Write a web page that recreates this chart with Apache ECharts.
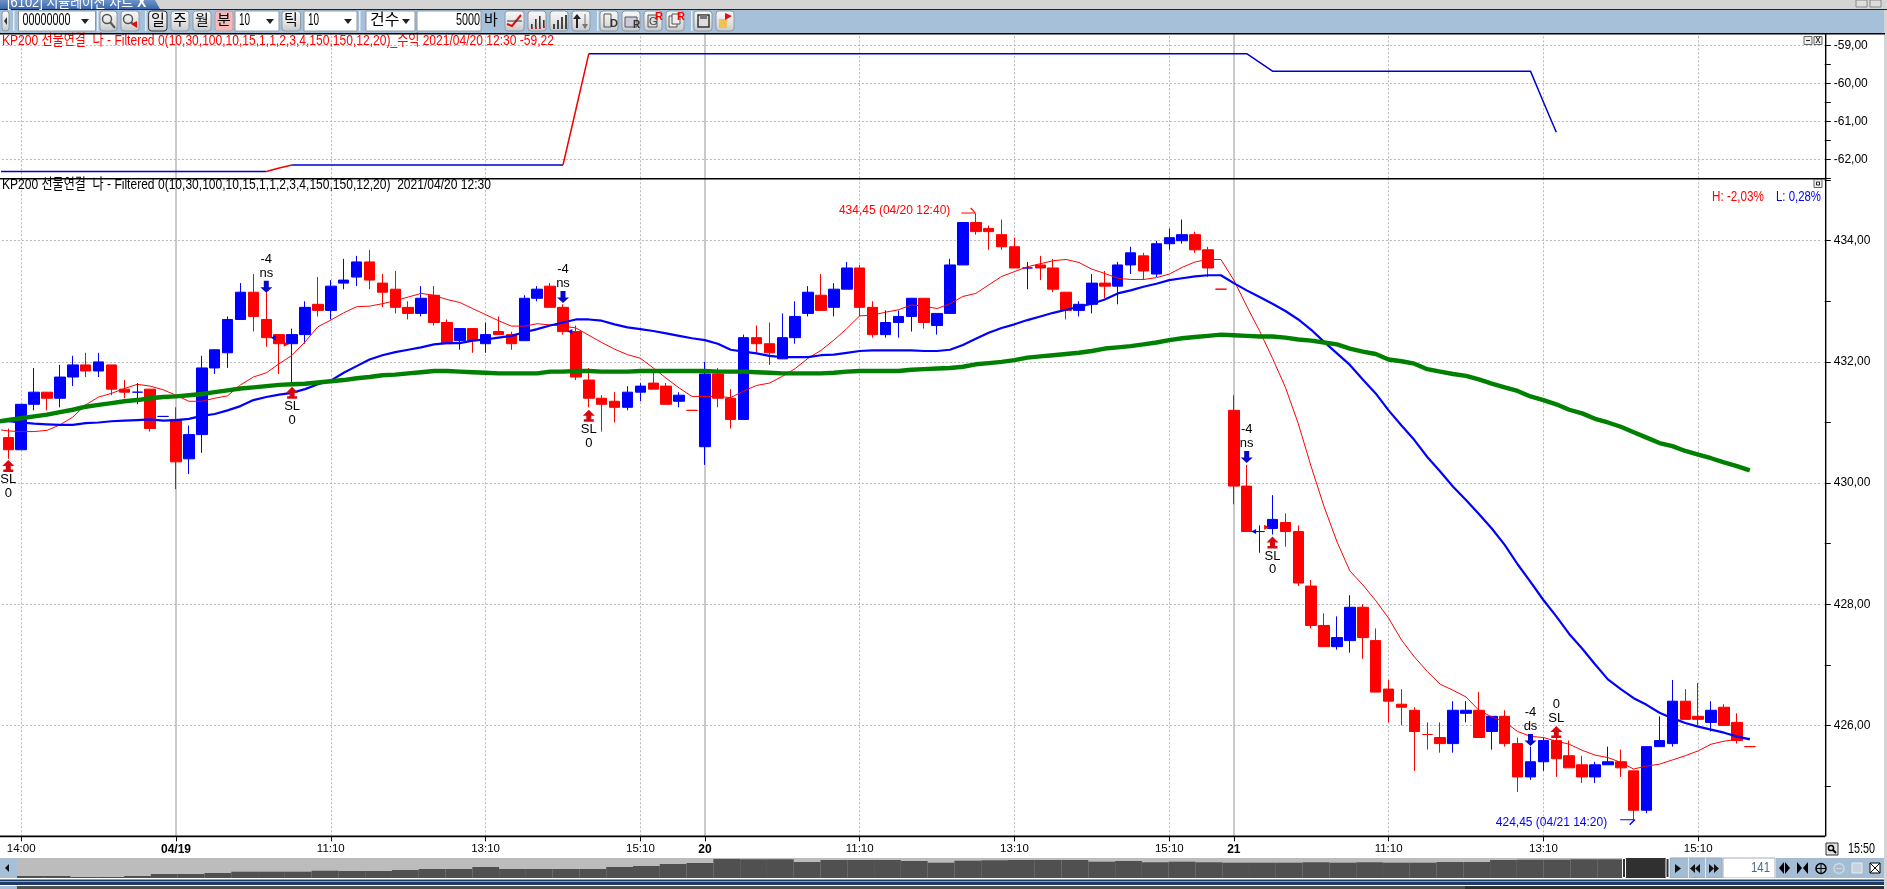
<!DOCTYPE html>
<html><head><meta charset="utf-8">
<script src="https://cdn.jsdelivr.net/npm/echarts@6/dist/echarts.min.js"></script>
<style>html,body{margin:0;padding:0;background:#fff;overflow:hidden}#c{width:1887px;height:889px}</style>
</head><body><div id="c"></div><script>
const opens=[430.75,430.55,431.30,431.50,431.40,431.75,431.95,431.85,431.95,431.55,
431.50,431.55,431.10,431.05,430.40,430.80,431.90,432.15,432.70,433.15,
432.70,432.45,432.30,432.45,432.95,432.85,433.30,433.40,433.65,433.30,
433.20,432.90,432.80,433.10,432.65,432.35,432.55,432.30,432.50,432.45,
432.35,433.05,433.25,432.90,432.50,431.70,431.40,431.35,431.25,431.50,
431.65,431.60,431.35,431.20,430.60,431.80,431.40,431.05,432.40,432.30,
432.05,432.40,432.80,433.10,432.90,433.20,433.55,432.90,432.45,432.65,
432.75,433.05,432.60,432.80,433.60,434.30,434.20,434.10,433.90,433.55,
433.60,433.55,433.15,432.85,432.95,433.30,433.25,433.60,433.75,433.45,
433.95,434.00,434.10,433.85,433.20,431.20,429.95,429.20,429.25,429.35,
429.20,428.30,427.65,427.30,427.40,427.95,427.40,426.60,426.35,426.25,
425.85,425.80,425.70,426.20,426.25,425.90,426.15,425.70,425.15,425.40,
425.75,425.50,425.35,425.15,425.35,425.40,425.25,424.60,425.65,425.70,
426.40,426.15,426.05,426.30,426.05,425.65];
const closes=[430.55,431.30,431.50,431.40,431.75,431.95,431.85,432.00,431.55,431.50,
431.50,430.90,431.10,430.35,430.80,431.90,432.20,432.70,433.15,432.75,
432.40,432.30,432.45,432.90,432.85,433.25,433.35,433.65,433.35,433.15,
432.90,432.80,433.05,432.65,432.30,432.55,432.35,432.45,432.45,432.30,
433.05,433.20,432.90,432.50,431.75,431.40,431.30,431.25,431.50,431.60,
431.55,431.30,431.45,431.20,431.80,431.40,431.05,432.40,432.30,432.15,
432.40,432.75,433.15,432.85,433.20,433.55,432.90,432.45,432.65,432.75,
433.05,432.65,432.80,433.60,434.30,434.15,434.15,433.90,433.55,433.55,
433.55,433.20,432.85,432.95,433.30,433.25,433.60,433.80,433.50,433.95,
434.05,434.10,433.85,433.55,433.20,429.95,429.20,429.20,429.40,429.20,
428.35,427.65,427.30,427.45,427.95,427.45,426.55,426.40,426.30,425.90,
425.85,425.70,426.25,426.25,425.80,426.15,425.70,425.15,425.40,425.75,
425.45,425.30,425.15,425.35,425.40,425.30,424.60,425.65,425.75,426.40,
426.10,426.10,426.25,426.00,425.75,425.65];
const lows=[430.40,430.55,431.20,431.20,431.25,431.60,431.75,431.75,431.45,431.40,
431.30,430.85,431.10,429.90,430.15,430.50,431.80,431.90,432.70,432.50,
432.25,431.80,431.65,432.30,432.75,432.70,433.20,433.25,433.20,432.90,
432.80,432.70,432.75,432.60,432.30,432.20,432.15,432.15,432.45,432.20,
432.35,433.00,432.90,432.45,431.70,431.25,430.85,431.00,431.20,431.35,
431.55,431.30,431.25,431.20,430.30,431.25,430.90,431.05,432.15,431.95,
432.05,432.30,432.75,432.85,432.75,433.20,432.75,432.40,432.40,432.40,
432.50,432.55,432.45,432.80,433.60,434.10,433.85,433.85,433.55,433.20,
433.35,433.15,432.70,432.75,432.80,433.05,432.95,433.45,433.35,433.40,
433.85,433.95,433.80,433.40,433.20,429.65,429.20,428.85,429.15,428.95,
428.30,427.60,427.30,427.25,427.20,427.10,426.55,426.05,426.00,425.25,
425.60,425.55,425.55,426.05,425.80,425.60,425.65,424.90,425.10,425.25,
425.15,425.30,425.05,425.05,425.35,425.15,424.45,424.55,425.65,425.65,
426.10,426.00,425.90,426.00,425.70,425.65];
const highs=[430.90,431.30,431.90,431.50,431.95,432.10,432.15,432.15,431.95,431.70,
431.65,431.55,431.10,431.25,430.95,432.10,432.20,432.75,433.30,433.45,
433.15,432.45,432.55,433.00,433.40,433.35,433.70,433.75,433.85,433.45,
433.50,433.00,433.25,433.25,432.70,432.55,432.55,432.65,432.75,432.50,
433.10,433.25,433.30,432.95,432.60,431.90,431.45,431.50,431.60,431.65,
431.85,431.65,431.50,431.20,432.00,431.90,431.55,432.45,432.60,432.65,
432.80,433.00,433.25,433.45,433.30,433.65,433.60,433.00,432.85,432.85,
433.05,433.05,432.80,433.70,434.30,434.45,434.25,434.35,434.05,433.65,
433.75,433.70,433.15,433.00,433.45,433.50,433.65,433.90,433.80,434.00,
434.20,434.35,434.15,433.90,433.20,431.45,430.30,429.30,429.80,429.50,
429.30,428.40,427.85,427.80,428.15,428.00,427.60,426.75,426.60,426.30,
426.05,426.05,426.40,426.40,426.55,426.15,426.25,425.80,425.65,425.80,
425.85,425.75,425.50,425.40,425.65,425.60,425.25,425.65,426.15,426.75,
426.60,426.70,426.40,426.35,426.20,425.65];
const blueDojiBars=[10,12,79,97];
const maThin=[430.89,430.86,430.85,430.85,430.87,430.96,431.09,431.29,431.42,431.48,431.56,
431.63,431.60,431.54,431.45,431.35,431.35,431.40,431.44,431.62,431.75,
431.82,431.97,432.11,432.33,432.58,432.69,432.81,432.91,432.92,432.96,
433.01,433.07,433.13,433.10,433.03,432.98,432.88,432.78,432.68,432.59,
432.59,432.63,432.61,432.59,432.56,432.44,432.32,432.21,432.12,432.06,
431.90,431.73,431.57,431.43,431.43,431.43,431.41,431.52,431.61,431.65,
431.76,431.89,432.06,432.19,432.36,432.55,432.76,432.77,432.82,432.86,
432.94,432.92,432.88,432.96,433.08,433.13,433.27,433.41,433.49,433.57,
433.62,433.67,433.69,433.64,433.53,433.46,433.38,433.36,433.36,433.39,
433.45,433.56,433.65,433.69,433.69,433.35,432.92,432.51,432.06,431.58,
430.98,430.27,429.61,429.03,428.55,428.32,428.06,427.77,427.41,427.13,
426.89,426.68,426.58,426.47,426.25,426.14,426.06,425.90,425.82,425.80,
425.74,425.69,425.59,425.51,425.47,425.39,425.28,425.33,425.36,425.43,
425.50,425.58,425.69,425.74,425.77,425.79];
const maMid=[431.03,431.02,431.00,430.98,430.97,430.96,430.96,430.99,431.00,431.02,431.03,
431.04,431.05,431.03,431.04,431.06,431.11,431.14,431.20,431.27,431.37,
431.42,431.46,431.49,431.55,431.63,431.69,431.82,431.93,432.04,432.11,
432.16,432.20,432.24,432.29,432.31,432.31,432.35,432.37,432.40,432.43,
432.49,432.54,432.60,432.65,432.70,432.70,432.68,432.62,432.57,432.54,
432.51,432.47,432.43,432.39,432.36,432.30,432.20,432.17,432.14,432.10,
432.08,432.08,432.08,432.11,432.12,432.15,432.18,432.19,432.19,432.19,
432.19,432.18,432.18,432.20,432.28,432.38,432.48,432.56,432.62,432.69,
432.75,432.81,432.86,432.91,432.96,433.03,433.13,433.18,433.24,433.29,
433.35,433.38,433.41,433.43,433.43,433.30,433.18,433.07,432.96,432.84,
432.70,432.53,432.33,432.14,431.95,431.71,431.48,431.20,430.95,430.71,
430.43,430.19,429.94,429.72,429.49,429.25,428.98,428.66,428.37,428.07,
427.80,427.51,427.27,427.01,426.76,426.60,426.45,426.34,426.21,426.12,
426.04,425.98,425.93,425.88,425.82,425.77];
const maLong=[431.01,431.04,431.07,431.10,431.13,431.17,431.21,431.26,431.29,431.32,431.35,
431.37,431.40,431.42,431.43,431.45,431.47,431.50,431.53,431.56,431.58,
431.60,431.62,431.63,431.64,431.66,431.68,431.70,431.73,431.75,431.78,
431.79,431.81,431.83,431.85,431.85,431.84,431.83,431.82,431.81,431.81,
431.81,431.81,431.84,431.84,431.85,431.85,431.84,431.84,431.84,431.85,
431.85,431.85,431.85,431.85,431.85,431.84,431.84,431.84,431.83,431.82,
431.81,431.81,431.81,431.81,431.82,431.84,431.85,431.85,431.85,431.85,
431.87,431.88,431.89,431.90,431.92,431.96,431.98,432.00,432.03,432.07,
432.09,432.11,432.13,432.15,432.18,432.22,432.24,432.26,432.29,432.32,
432.36,432.39,432.41,432.43,432.45,432.44,432.43,432.42,432.42,432.40,
432.37,432.35,432.32,432.29,432.22,432.17,432.13,432.04,432.01,431.97,
431.88,431.84,431.80,431.77,431.71,431.64,431.58,431.52,431.43,431.37,
431.30,431.21,431.15,431.06,431.00,430.93,430.84,430.75,430.66,430.61,
430.53,430.47,430.41,430.34,430.28,430.21];
const profit=[-62.32,-62.32,-62.32,-62.32,-62.32,-62.32,-62.32,-62.32,-62.32,-62.32,-62.32,
-62.32,-62.32,-62.32,-62.32,-62.32,-62.32,-62.32,-62.32,-62.32,-62.32,
-62.32,-62.23,-62.15,-62.15,-62.15,-62.15,-62.15,-62.15,-62.15,-62.15,
-62.15,-62.15,-62.15,-62.15,-62.15,-62.15,-62.15,-62.15,-62.15,-62.15,
-62.15,-62.15,-62.15,-62.15,-60.69,-59.22,-59.22,-59.22,-59.22,-59.22,
-59.22,-59.22,-59.22,-59.22,-59.22,-59.22,-59.22,-59.22,-59.22,-59.22,
-59.22,-59.22,-59.22,-59.22,-59.22,-59.22,-59.22,-59.22,-59.22,-59.22,
-59.22,-59.22,-59.22,-59.22,-59.22,-59.22,-59.22,-59.22,-59.22,-59.22,
-59.22,-59.22,-59.22,-59.22,-59.22,-59.22,-59.22,-59.22,-59.22,-59.22,
-59.22,-59.22,-59.22,-59.22,-59.22,-59.22,-59.22,-59.45,-59.68,-59.68,
-59.68,-59.68,-59.68,-59.68,-59.68,-59.68,-59.68,-59.68,-59.68,-59.68,
-59.68,-59.68,-59.68,-59.68,-59.68,-59.68,-59.68,-59.68,-59.68,-60.49,-61.29];
const overview=[2,2,1,1,2,4,4,5,6.3,6.3,6.3,7.3,7,7,8,9,9,11,9,9,9,9,11,12,14,15,19,18.7,18.7,16,18,18,18,17,15.3,17.3,17.7,18,18,18,16.3,17,15.7,16.3,15.7,15.3,15.3,15.3,15.7,15.3,15.7,15.3,15.3,16,16,18,18.3,18.3,18.7,18.7];
const barSlots=142;   // slot 0 is the bar just left of the window, whose lines run in from the edge
const tickBars=[2,14,26,38,50,55,67,79,91,96,108,120,132];
const tickLabels=['14:00','04/19','11:10','13:10','15:10','20','11:10','13:10','15:10','21','11:10','13:10','15:10'];
const dayBars=[14,55,96];
const dayLabels=['04/19','20','21'];
const priceLabels=[426,428,430,432,434];
const priceTicks=[425,426,427,428,429,430,431,432,433,434,435];
const profitLabels=[-62,-61,-60,-59];
const profitTicks=[-62.5,-62,-61.5,-61,-60.5,-60,-59.5,-59];
const sellBars=[21,44,97,119], sellTips=[433.14,432.97,430.33,425.66], sellTexts=['-4\nns','-4\nns','-4\nns','-4\nds'];
const stopBars=[1,23,46,99], stopTips=[430.38,431.59,431.21,429.12];
const stopAboveBars=[121], stopAboveTips=[425.99];
const entryBars=[22,45,98], entryPrices=[432.40,432.50,429.20];
const exitBars=[22,98], exitPrices=[432.29,429.27];
const highBar=76, highPrice=434.45, highText='434,45 (04/20 12:40)';
const lowBar=127, lowPrice=424.45, lowText='424,45 (04/21 14:20)';
const titleProfit='KP200 선물연결  나 - Filtered 0(10,30,100,10,15,1,1,2,3,4,150,150,12,20)_수익 2021/04/20 12:30 -59,22';
const titleMain='KP200 선물연결  나 - Filtered 0(10,30,100,10,15,1,1,2,3,4,150,150,12,20)  2021/04/20 12:30';

const FONT='"Liberation Sans","Noto Sans CJK KR",sans-serif';
const categories=Array.from({length:barSlots},(_,i)=>{const k=tickBars.indexOf(i);return k<0?'':tickLabels[k];});
const labelShown=i=>tickBars.includes(i);
const candles=[{value:['-','-','-','-']},...opens.map((o,i)=>{const d={value:[o,closes[i],lows[i],highs[i]]};
  if(blueDojiBars.includes(i))d.itemStyle={borderColorDoji:'#0000ff'};return d;})];
const rising=i=>i>0&&profit[i]>profit[i-1];
const profitUp=profit.map((v,i)=>(rising(i)||rising(i+1))?v:null);
const profitRest=profit.map((v,i)=>(rising(i)&&rising(i+1))?null:v);
const vLines=tickBars.map(i=>dayBars.includes(i)
  ?{xAxis:i,lineStyle:{type:'solid',color:'#b8b8b8',width:1.5}}
  :{xAxis:i,lineStyle:{type:[2,2],color:'#b8b8b8',width:1}});
const hLines=vs=>vs.map(v=>({yAxis:v,lineStyle:{type:[2,2],color:'#b8b8b8',width:1}}));
const marks=vs=>({silent:true,symbol:'none',animation:false,z:1,label:{show:false},data:[...vLines,...hLines(vs)]});
const ARROW_UP='path://M6 0 L12 6 L8.5 6 L8.5 9.5 L11 9.5 L11 12 L1 12 L1 9.5 L3.5 9.5 L3.5 6 L0 6 Z';
const ARROW_DN='path://M3.5 0 L8.5 0 L8.5 6.5 L12 6.5 L6 12 L0 6.5 L3.5 6.5 Z';
const txt={color:'#000',fontFamily:FONT,fontSize:13,lineHeight:13.5,align:'center'};
const signals=[
 ...sellBars.map((b,k)=>({value:[b,sellTips[k]],symbol:ARROW_DN,symbolSize:[12,12],symbolOffset:[0,-6],itemStyle:{color:'#0606c8',opacity:1},
   label:{show:true,position:'top',distance:1,formatter:sellTexts[k],...txt}})),
 ...stopBars.map((b,k)=>({value:[b,stopTips[k]],symbol:ARROW_UP,symbolSize:[12,12],symbolOffset:[0,6],itemStyle:{color:'#d80810',opacity:1},
   label:{show:true,position:'bottom',distance:1,formatter:'SL\n0',...txt}})),
 ...stopAboveBars.map((b,k)=>({value:[b,stopAboveTips[k]],symbol:ARROW_UP,symbolSize:[12,12],symbolOffset:[0,6],itemStyle:{color:'#d80810',opacity:1},
   label:{show:true,position:'top',distance:1,formatter:'0\nSL',...txt}})),
 ...entryBars.map((b,k)=>({value:[b,entryPrices[k]],symbol:'triangle',symbolRotate:90,symbolSize:5,symbolOffset:[-6,0],itemStyle:{color:'#0000ff',opacity:1}})),
 ...exitBars.map((b,k)=>({value:[b,exitPrices[k]],symbol:'triangle',symbolRotate:-90,symbolSize:5,symbolOffset:[7,0],itemStyle:{color:'#ff0000',opacity:1}}))];
const extremes=[
 {value:[highBar,highPrice],symbol:'path://M0 5 L13 5 L9 1 L10 0 L15 6 L0 6 Z',symbolSize:[15,6],symbolOffset:[-7,-3],itemStyle:{color:'#f00',opacity:1},
  label:{show:true,position:'left',distance:11,formatter:highText,color:'#f00',fontFamily:FONT,fontSize:12}},
 {value:[lowBar,lowPrice],symbol:'path://M0 0 L15 0 L15 1 L10 6 L9 5 L13 1 L0 1 Z',symbolSize:[15,6],symbolOffset:[-6,3],itemStyle:{color:'#00f',opacity:1},
  label:{show:true,position:'left',distance:13,formatter:lowText,color:'#00f',fontFamily:FONT,fontSize:12}}];

// ---- window chrome
const G=[];
const measure=document.createElement('canvas').getContext('2d');
const rect=(x,y,w,h,fill,extra={})=>G.push({type:'rect',shape:{x,y,width:w,height:h,r:extra.r||0},style:{fill,stroke:extra.stroke||null,lineWidth:extra.lw||1},z:extra.z||50,silent:true});
const text=(x,y,t,o={})=>{const font=(o.weight||'')+' '+(o.size||14)+'px '+FONT;let sx=1;
  if(o.fit){measure.font=font;sx=o.fit/measure.measureText(t).width;}
  G.push({type:'text',style:{x,y,text:t,fill:o.fill||'#000',align:o.align||'left',verticalAlign:'middle',font},z:o.z||60,silent:true,scaleX:sx,originX:x,originY:y});};
const line=(pts,stroke,lw=1,z=60)=>G.push({type:'polyline',shape:{points:pts},style:{stroke,lineWidth:lw,fill:null},z,silent:true});
const poly=(pts,fill,z=60)=>G.push({type:'polygon',shape:{points:pts},style:{fill},z,silent:true});
const circle=(cx,cy,r,stroke,fill=null)=>G.push({type:'circle',shape:{cx,cy,r},style:{stroke,fill,lineWidth:1.5},z:60,silent:true});
const btnFill={type:'linear',x:0,y:0,x2:0,y2:1,colorStops:[{offset:0,color:'#fafafa'},{offset:.55,color:'#e4e4e4'},{offset:1,color:'#c4c8cc'}]};
const btn=(x,w,o={})=>rect(x,11,w,20,o.fill||btnFill,{stroke:o.stroke||'#8d9aa6',r:3});
const combo=(x,w,t,ax,fit)=>{rect(x,11,w,20,'#fff',{stroke:'#8d9aa6'});text(x+4,21,t,{size:16,fit});poly([[ax-4,19],[ax+4,19],[ax,24]],'#222');};
rect(0,0,1887,9,'#d4d4d4');
poly([[0,0],[155,0],[160,9],[0,9]],{type:'linear',x:0,y:0,x2:0,y2:1,colorStops:[{offset:0,color:'#6d92c6'},{offset:1,color:'#3d68ac'}]},51);
text(7,3,'[6102] 시뮬레이션 차트',{fill:'#fff',size:14,z:52,fit:126});
text(137,3,'X',{fill:'#fff',size:14,weight:'bold',z:52});
rect(1856,0,11,7,'#ddd',{stroke:'#888'});rect(1870,0,11,7,'#ddd',{stroke:'#888'});
rect(0,9,1887,1.4,'#1a2430');
rect(0,10,1884,23,'#a5c0d8');
rect(1884,10,3,879,'#d4d4d4');
rect(0,33,1885,1.6,'#000',{z:70});
// toolbar
btn(2,7);poly([[4,21],[7,17],[7,25]],'#333');
[13,97,145,359,597,691].forEach(x=>rect(x,11,1.5,20,'#e8eef4'));
combo(18.5,77,'00000000',85,48);
btn(100,17);circle(107,19,4.5,'#555');line([[110,22],[115,28]],'#555',2);
btn(121,18);circle(128,19,4.5,'#555');line([[131,22],[134,25]],'#555',2);poly([[131,24],[137,21],[137,28]],'#e01010');
btn(148.6,18.4,{stroke:'#333'});text(158,21,'일',{align:'center',size:15});
btn(171,18);text(180,21,'주',{align:'center',size:15});
btn(193,18);text(202,21,'월',{align:'center',size:15});
btn(215,18,{fill:'#f7b9b9',stroke:'#b9a0a0'});text(224,21,'분',{align:'center',size:15});
combo(235,44,'10',270,11);
btn(282,18.5);text(291,21,'틱',{align:'center',size:15});
combo(304,53,'10',348,11);
combo(366,49,'건수',406);
rect(417,11,64,20,'#fff',{stroke:'#8d9aa6'});text(456,21,'5000',{size:16,fit:24});
text(484,21,'바',{size:15});
btn(505,19);line([[507,24],[512,26],[521,15]],'#e01010',2);line([[507,21],[522,21]],'#333',1);
btn(528,18);[[531,24,5],[535,19,10],[539,16,13],[543,20,8]].forEach(([x,y,h])=>{rect(x,y,1.6,h,'#333',{z:60});rect(x,y+h-2,1.6,2,'#e01010',{z:61});});
btn(550,18);[[553,24,5],[557,20,9],[561,17,12],[565,15,14]].forEach(([x,y,h])=>rect(x,y,2,h,'#444',{z:60}));
btn(572,18);line([[577,28],[577,15]],'#222',2);poly([[573,19],[581,19],[577,14]],'#222');line([[585,14],[585,27]],'#777',1);poly([[582,24],[588,24],[585,29]],'#777');
btn(600,18);line([[604,14],[611,14],[611,27],[604,27],[604,14]],'#555',1);text(610,24,'D',{weight:'bold',size:11,fill:'#333'});
btn(622,18);rect(625,17,12,10,'#ccd',{stroke:'#555',z:60});text(633,25,'R',{weight:'bold',size:10,fill:'#333'});
btn(644,18);rect(648,15,9,12,'#ddd',{stroke:'#555',z:60});text(649,22,'G',{size:11,fill:'#444'});text(655,17,'R',{weight:'bold',size:11,fill:'#f00'});
btn(666,18);rect(669,16,8,11,'#eee',{stroke:'#555',z:60});rect(672,14,8,10,'#eee',{stroke:'#555',z:60});text(677,17,'R',{weight:'bold',size:11,fill:'#f00'});
btn(694,18);rect(698,15,11,12,'#ddd',{stroke:'#333',lw:1.5,z:60});rect(700,15,7,4,'#777',{z:61});
btn(716,18);poly([[719,19],[727,19],[727,28],[719,28]],'#f0c050');poly([[725,13],[732,16],[725,20]],'#e01010');
// panels frame
rect(0,178,1825,1.6,'#000',{z:70});
rect(0,835.6,1825,1.6,'#000',{z:70});
rect(1825,33,1.4,803.6,'#000',{z:70});
rect(1804,36.5,8,8,'#eee',{stroke:'#666',z:71});line([[1806,40.5],[1810,40.5]],'#222',1,72);
rect(1814,36.5,8,8,'#eee',{stroke:'#666',z:71});text(1818,40.5,'x',{size:10,align:'center',z:72});
rect(1814,179.5,8,8,'#eee',{stroke:'#666',z:71});rect(1816.5,182,3,3,'#fff',{stroke:'#222',z:72});
text(2,41,titleProfit,{fill:'#f00',size:15,fit:552});
text(2,185,titleMain,{fill:'#000',size:15,fit:489});
text(1712,197,'H: -2,03%',{fill:'#f00',size:15,fit:52});
text(1776,197,'L: 0,28%',{fill:'#00f',size:15,fit:45});
// bottom
rect(1826,843,12,12,'#e4e4e4',{stroke:'#333'});circle(1831,848,2.6,'#000');line([[1833,850],[1836,853]],'#000',2);
text(1848,849,'15:50',{size:14,fit:27});
rect(0,858,17,20,'#a5c0d8');poly([[5,868],[9,864],[9,872]],'#111');
rect(1624,858,43,20,'#303030',{z:55});
rect(1622.5,858.5,3,19,'#303030',{stroke:'#fff',z:56});
rect(1666,858.5,3,19,'#303030',{stroke:'#fff',z:56});
rect(1670,858,52,20,'#a5bdd4',{stroke:'#8ea6bc'});
[1688,1705].forEach(x=>rect(x,858,1,20,'#dfe8f0',{z:56}));
poly([[1675,864],[1681,868.5],[1675,873]],'#111');
poly([[1700,864],[1695,868.5],[1700,873]],'#111');poly([[1695,864],[1690,868.5],[1695,873]],'#111');
poly([[1709,864],[1714,868.5],[1709,873]],'#111');poly([[1714,864],[1719,868.5],[1714,873]],'#111');
rect(1723,858,52,20,'#fff',{stroke:'#aab'});text(1751,868,'141',{size:14,fill:'#4a6a8a',fit:19});
rect(1776,858,108,20,'#a5bdd4');
poly([[1779,868],[1784,862],[1784,874]],'#000');poly([[1785,862],[1790,868],[1785,874]],'#000');
poly([[1797,862],[1802,868],[1797,874]],'#000');poly([[1808,862],[1803,868],[1808,874]],'#000');
circle(1821,868.5,5,'#000');line([[1816,868.5],[1826,868.5]],'#000');line([[1821,863.5],[1821,873.5]],'#000');
circle(1839,868.5,5,'#cfd8e2');line([[1836,868.5],[1842,868.5]],'#cfd8e2');
rect(1852,863,10,10,'#c8d2dc',{stroke:'#e6ecf2'});
rect(1870,863,10,10,'#fff',{stroke:'#000'});line([[1870,863],[1880,873]],'#000');line([[1880,863],[1870,873]],'#000');
rect(0,878,1884,8,'#ffffff');
rect(0,879.5,1884,2,'#1c3a66');rect(0,882,1884,3,'#1c3a66');
rect(0,886,1884,3,'#505050');rect(1465,886,419,3,'#303030');rect(0,886,17,3,'#a5bdd4');

const option={
 animation:false,backgroundColor:'#fff',
 grid:[
  {left:1.85,top:33.3,width:1818.9,height:145,containLabel:false},
  {left:1.85,top:178.3,width:1818.9,height:658},
  {left:17,top:858,width:1607,height:20,show:true,backgroundColor:'#bcbcbc',borderWidth:0}],
 xAxis:[
  {type:'category',gridIndex:0,min:1,max:141,data:categories,axisLine:{show:false},axisTick:{show:false},axisLabel:{show:false},splitLine:{show:false}},
  {type:'category',gridIndex:1,min:1,max:141,data:categories,axisLine:{show:false},
   axisTick:{show:true,alignWithLabel:true,interval:labelShown,length:5,lineStyle:{color:'#000'}},
   axisLabel:{show:true,interval:labelShown,margin:7,hideOverlap:false,fontFamily:FONT,fontSize:11.5,color:'#000',
    formatter:v=>dayLabels.includes(v)?`{d|${v}}`:v,rich:{d:{fontFamily:FONT,fontSize:12,fontWeight:'bold',color:'#000'}}},
   splitLine:{show:false}},
  {type:'category',gridIndex:2,data:overview.map((_,i)=>i),show:false}],
 yAxis:[
  {type:'value',gridIndex:0,position:'right',offset:4,min:-62.5,max:-58.684,splitNumber:4,scale:true,
   axisLine:{show:false},axisTick:{show:true,length:6,customValues:profitTicks,lineStyle:{color:'#000'}},
   axisLabel:{show:true,margin:9,customValues:profitLabels,fontFamily:FONT,fontSize:12,color:'#000',formatter:v=>v.toFixed(2).replace('.',',')},
   splitLine:{show:false}},
  {type:'value',gridIndex:1,position:'right',offset:4,min:424.17,max:435.03,splitNumber:5,scale:true,
   axisLine:{show:false},axisTick:{show:true,length:6,customValues:priceTicks,lineStyle:{color:'#000'}},
   axisLabel:{show:true,margin:9,customValues:priceLabels,fontFamily:FONT,fontSize:12,color:'#000',formatter:v=>v.toFixed(2).replace('.',',')},
   splitLine:{show:false}},
  {type:'value',gridIndex:2,min:0,max:20,show:false}],
 series:[
  {name:'수익',type:'line',xAxisIndex:0,yAxisIndex:0,data:profitRest,symbol:'none',lineStyle:{color:'#0000d0',width:1.5},markLine:marks(profitLabels),z:3},
  {name:'수익 상승',type:'line',xAxisIndex:0,yAxisIndex:0,data:profitUp,symbol:'none',lineStyle:{color:'#f00000',width:1.5},z:3},
  {name:'KP200',type:'candlestick',xAxisIndex:1,yAxisIndex:1,data:candles,barWidth:11,
   itemStyle:{color:'#0000ff',color0:'#ff0000',borderColor:'#0000ff',borderColor0:'#ff0000',borderColorDoji:'#ff0000',borderWidth:1},
   markLine:marks(priceLabels),z:2},
  {name:'MA 10',type:'line',xAxisIndex:1,yAxisIndex:1,data:maThin,symbol:'none',lineStyle:{color:'#ff0000',width:1},z:4},
  {name:'MA 30',type:'line',xAxisIndex:1,yAxisIndex:1,data:maMid,symbol:'none',lineStyle:{color:'#0000ff',width:2.2},z:5},
  {name:'MA 100',type:'line',xAxisIndex:1,yAxisIndex:1,data:maLong,symbol:'none',lineStyle:{color:'#008000',width:4.4},z:6},
  {name:'신호',type:'scatter',xAxisIndex:1,yAxisIndex:1,data:signals,z:8,clip:false},
  {name:'고저',type:'scatter',xAxisIndex:1,yAxisIndex:1,data:extremes,z:8,clip:false},
  {name:'overview',type:'bar',xAxisIndex:2,yAxisIndex:2,data:overview,barCategoryGap:0,barWidth:'100%',itemStyle:{color:'#505050'},silent:true}],
 graphic:{elements:G}
};
echarts.init(document.getElementById('c'),null,{renderer:'canvas'}).setOption(option);
</script></body></html>
